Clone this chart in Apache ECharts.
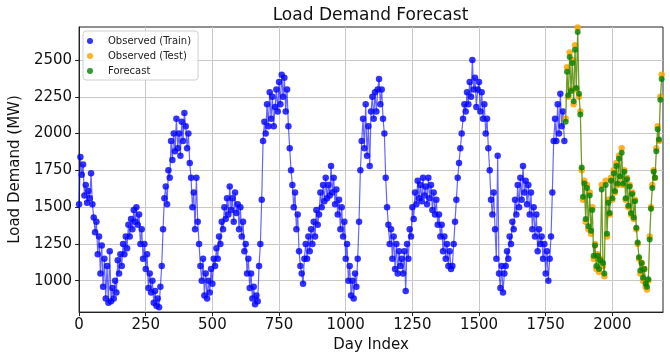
<!DOCTYPE html>
<html>
<head>
<meta charset="utf-8">
<title>Load Demand Forecast</title>
<script src="https://cdn.jsdelivr.net/npm/echarts@6/dist/echarts.min.js"></script>
<style>
  html, body { margin: 0; padding: 0; background: #ffffff; }
  #chart { width: 670px; height: 358px; }
</style>
</head>
<body>
<div id="chart"></div>
<script>
// Daily load demand, sampled every 5 days.
const DAY_STEP = 5;
const TRAIN_START = 0;
const TEST_START = 1825;

// Observed load (MW), training period: day 0 .. 1820
const trainLoad = [
  1520, 1840, 1720, 1790, 1580, 1650, 1530, 1610, 1560, 1730, 1520, 1430, 1330, 1400, 1180, 1300, 1050, 1240, 960, 1150,
  880, 1100, 850, 1200, 860, 950, 880, 1000, 920, 1140, 1050, 1180, 1100, 1250, 1180, 1300, 1220, 1380, 1300, 1420,
  1350, 1480, 1400, 1500, 1380, 1450, 1250, 1350, 1150, 1250, 1080, 1180, 950, 1050, 920, 1000, 850, 930, 830, 880,
  820, 960, 1100, 1350, 1560, 1640, 1520, 1750, 1700, 1950, 1820, 2000, 1880, 2100, 1900, 2000, 1850, 2080, 1950, 2140,
  2050, 1900, 2000, 1800, 1700, 1500, 1600, 1350, 1700, 1400, 1250, 1100, 1000, 1150, 900, 1050, 880, 1000, 920, 1080,
  980, 1150, 1100, 1220, 1150, 1300, 1250, 1400, 1350, 1500, 1420, 1560, 1450, 1640, 1480, 1560, 1400, 1600, 1460, 1520,
  1350, 1500, 1300, 1400, 1200, 1250, 1050, 1150, 950, 1050, 880, 960, 840, 900, 860, 1100, 1250, 1550, 1950, 2080,
  2000, 2200, 2050, 2280, 2100, 2250, 2050, 2180, 2300, 2150, 2350, 2200, 2400, 2250, 2380, 2150, 2300, 2050, 1900, 1750,
  1650, 1500, 1600, 1350, 1450, 1200, 1100, 1050, 980, 1150, 1250, 1150, 1300, 1200, 1350, 1250, 1400, 1300, 1480, 1380,
  1450, 1600, 1500, 1650, 1540, 1700, 1560, 1650, 1580, 1780, 1600, 1700, 1520, 1620, 1450, 1550, 1350, 1500, 1300, 1400,
  1150, 1250, 1000, 1100, 900, 1000, 880, 1050, 960, 1150, 1400, 1750, 1950, 2100, 1900, 2200, 1850, 2050, 1780, 2150,
  2250, 2100, 2280, 2150, 2300, 2370, 2200, 2300, 2100, 2000, 1700, 1500, 1380, 1250, 1350, 1150, 1300, 1080, 1250, 1050,
  1200, 1100, 1150, 1050, 1200, 930, 1250, 1150, 1350, 1300, 1500, 1420, 1600, 1520, 1680, 1560, 1650, 1540, 1700, 1580,
  1640, 1520, 1700, 1560, 1650, 1480, 1600, 1450, 1550, 1380, 1450, 1300, 1380, 1200, 1300, 1150, 1250, 1100, 1200, 1080,
  1100, 1250, 1400, 1550, 1700, 1800, 1900, 2000, 2100, 2200, 2150, 2280, 2200, 2350, 2250, 2500, 2300, 2380, 2180, 2300,
  2350, 2150, 2280, 2100, 2200, 2000, 2100, 1900, 1750, 1550, 1450, 1600, 1350, 1150, 1850, 1050, 950, 1100, 920, 1050,
  1100, 1200, 1150, 1300, 1250, 1400, 1350, 1550, 1450, 1650, 1500, 1700, 1550, 1780, 1600, 1680, 1520, 1650, 1450, 1600,
  1350, 1500, 1300, 1450, 1200, 1350, 1250, 1300, 1150, 1250, 1050, 1200, 1000, 1150, 1300, 1600, 1950, 2100, 1950, 2200,
  2000, 2270, 2050, 2150, 1950
];

// Observed load (MW), test period: day 1825 .. 2185
const testLoad = [
  2100, 2450, 2250, 2550, 2300, 2500, 2200, 2600, 2300, 2720, 2250, 2150, 1750, 1550, 1680, 1400, 1650, 1350, 1600, 1320,
  1500, 1150, 1250, 1080, 1180, 1060, 1150, 1650, 1100, 1030, 1680, 1300, 1550, 1450, 1700, 1550, 1750, 1600, 1800, 1650,
  1850, 1700, 1900, 1650, 1750, 1550, 1700, 1500, 1650, 1450, 1600, 1420, 1550, 1350, 1250, 1150, 1050, 1120, 1000, 1080,
  960, 940, 1000, 1300, 1500, 1650, 1750, 1700, 1900, 2050, 1950, 2250, 2400
];

// Model forecast (MW) over the test period
const forecastLoad = [
  2080, 2420, 2260, 2520, 2290, 2480, 2220, 2570, 2310, 2690, 2270, 2130, 1770, 1570, 1660, 1420, 1630, 1370, 1580, 1340,
  1480, 1170, 1240, 1100, 1170, 1080, 1140, 1620, 1120, 1050, 1650, 1320, 1530, 1460, 1680, 1560, 1730, 1610, 1780, 1660,
  1830, 1710, 1870, 1660, 1740, 1560, 1690, 1510, 1640, 1460, 1590, 1430, 1540, 1360, 1260, 1160, 1070, 1120, 1020, 1080,
  980, 960, 1010, 1280, 1490, 1630, 1740, 1700, 1880, 2030, 1960, 2230, 2370
];

const yTicks = [1000, 1250, 1500, 1750, 2000, 2250, 2500];
const xTicks = [0, 250, 500, 750, 1000, 1250, 1500, 1750, 2000];

function toPairs(values, start) {
  return values.map((v, i) => [start + i * DAY_STEP, v]);
}

const FONT = 'DejaVu Sans';
const plain = (v) => String(v);
const chart = echarts.init(document.getElementById('chart'), null, { renderer: 'canvas' });

chart.setOption({
  animation: false,
  backgroundColor: '#ffffff',
  textStyle: { fontFamily: FONT },
  graphic: [{
    type: 'text',
    x: 370.5,
    y: 16,
    style: {
      text: 'Load Demand Forecast',
      fontFamily: FONT,
      fontSize: 17,
      fill: '#111',
      align: 'center',
      verticalAlign: 'middle'
    }
  }],
  grid: {
    left: 78, right: 7, top: 27, bottom: 40,
    show: true, borderColor: '#222', borderWidth: 1, backgroundColor: 'transparent'
  },
  legend: {
    orient: 'vertical',
    left: 83, top: 31,
    itemWidth: 20, itemHeight: 6, itemGap: 1,
    icon: 'circle',
    padding: [3, 7, 2, 4],
    backgroundColor: 'rgba(255,255,255,0.85)',
    borderColor: '#d0d0d0', borderWidth: 1, borderRadius: 3,
    textStyle: { fontFamily: FONT, fontSize: 10, color: '#222', lineHeight: 14, padding: [0, 0, 0, 3] },
    data: ['Observed (Train)', 'Observed (Test)', 'Forecast']
  },
  xAxis: {
    type: 'value', min: 0, max: 2190,
    name: 'Day Index', nameLocation: 'middle', nameGap: 21,
    nameTextStyle: { fontFamily: FONT, fontSize: 15, color: '#111' },
    axisLine: { show: true, onZero: false, lineStyle: { color: '#222', width: 1 } },
    axisTick: { show: true, length: 4, lineStyle: { color: '#222' }, customValues: xTicks },
    axisLabel: { fontFamily: FONT, fontSize: 15, color: '#111', margin: 6, customValues: xTicks, formatter: plain },
    splitLine: { show: true, lineStyle: { color: '#c8c8c8', width: 1 } }
  },
  yAxis: {
    type: 'value', min: 787, max: 2724,
    name: 'Load Demand (MW)', nameLocation: 'middle', nameGap: 50, nameRotate: 90,
    nameTextStyle: { fontFamily: FONT, fontSize: 15, color: '#111' },
    axisLine: { show: true, onZero: false, lineStyle: { color: '#222', width: 1 } },
    axisTick: { show: true, length: 4, lineStyle: { color: '#222' }, customValues: yTicks },
    axisLabel: { fontFamily: FONT, fontSize: 15, color: '#111', margin: 7, customValues: yTicks, formatter: plain },
    splitLine: { show: true, lineStyle: { color: '#c8c8c8', width: 1 } }
  },
  series: [
    {
      name: 'Observed (Train)', type: 'line',
      data: toPairs(trainLoad, TRAIN_START),
      symbol: 'circle', symbolSize: 6.5,
      itemStyle: { color: 'rgba(0,0,255,0.8)' },
      lineStyle: { color: 'rgba(0,0,255,0.6)', width: 1.2 },
      z: 2
    },
    {
      name: 'Observed (Test)', type: 'line',
      data: toPairs(testLoad, TEST_START),
      symbol: 'circle', symbolSize: 6.5,
      itemStyle: { color: 'rgba(255,165,0,0.85)' },
      lineStyle: { color: 'rgba(255,165,0,0.6)', width: 1.2 },
      z: 3
    },
    {
      name: 'Forecast', type: 'line',
      data: toPairs(forecastLoad, TEST_START),
      symbol: 'circle', symbolSize: 6,
      itemStyle: { color: 'rgba(0,128,0,0.8)' },
      lineStyle: { color: 'rgba(0,128,0,0.6)', width: 1.2 },
      z: 4
    }
  ]
});
</script>
</body>
</html>
